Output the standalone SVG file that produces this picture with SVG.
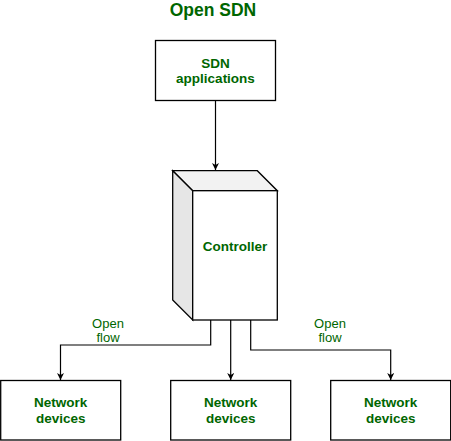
<svg xmlns="http://www.w3.org/2000/svg" width="451" height="441" viewBox="0 0 451 441">
<style>
.box{fill:#ffffff;stroke:#000000;stroke-width:1.3}
.t{font-family:"Liberation Sans",Arial,sans-serif;font-weight:bold;font-size:13.5px;fill:#006600;text-anchor:middle}
.lbl{font-family:"Liberation Sans",Arial,sans-serif;font-size:13px;fill:#006600;text-anchor:middle}
.ln{fill:none;stroke:#000000;stroke-width:1.2}
</style>
<defs>
<marker id="ah" viewBox="0 0 10 10" refX="10" refY="5" markerWidth="7" markerHeight="7" markerUnits="userSpaceOnUse" orient="auto">
<path d="M0,0 L10,5 L0,10 L3,5 Z" fill="#000000"/>
</marker>
</defs>
<rect width="451" height="441" fill="#ffffff"/>
<text x="213" y="16" class="t" style="font-size:17.5px">Open SDN</text>
<g id="connectors">
<line class="ln" x1="215.5" y1="100" x2="215.5" y2="170" marker-end="url(#ah)"/>
<polyline class="ln" points="210.7,320 210.7,345 60.5,345 60.5,380" marker-end="url(#ah)"/>
<line class="ln" x1="230.7" y1="320" x2="230.7" y2="380" marker-end="url(#ah)"/>
<polyline class="ln" points="250.7,320 250.7,350 390.7,350 390.7,380" marker-end="url(#ah)"/>
<text x="108" y="328.3" class="lbl">Open</text>
<text x="108" y="342.3" class="lbl">flow</text>
<text x="330" y="328.3" class="lbl">Open</text>
<text x="330" y="342.3" class="lbl">flow</text>
</g>
<g id="sdn-applications">
<rect class="box" x="155.5" y="40.5" width="120" height="60"/>
<text x="215.5" y="68.3" class="t">SDN</text>
<text x="215.5" y="83.3" class="t">applications</text>
</g>
<g id="controller">
<polygon points="172.7,170.7 257.3,170.7 277.3,190.7 192.7,190.7" fill="#f2f2f2" stroke="#000" stroke-width="1.3"/>
<polygon points="172.7,170.7 192.7,190.7 192.7,320 172.7,300" fill="#e6e6e6" stroke="#000" stroke-width="1.3"/>
<rect class="box" x="192.7" y="190.7" width="84.6" height="129.3"/>
<text x="235" y="250.7" class="t">Controller</text>
</g>
<g id="network-devices-1">
<rect class="box" x="0.7" y="380.5" width="120" height="59.5"/>
<text x="60.7" y="407.3" class="t">Network</text>
<text x="60.7" y="422.7" class="t">devices</text>
</g>
<g id="network-devices-2">
<rect class="box" x="170.7" y="380.5" width="120" height="59.5"/>
<text x="230.7" y="407.3" class="t">Network</text>
<text x="230.7" y="422.7" class="t">devices</text>
</g>
<g id="network-devices-3">
<rect class="box" x="330.7" y="380.5" width="120" height="59.5"/>
<text x="390.7" y="407.3" class="t">Network</text>
<text x="390.7" y="422.7" class="t">devices</text>
</g>
</svg>
